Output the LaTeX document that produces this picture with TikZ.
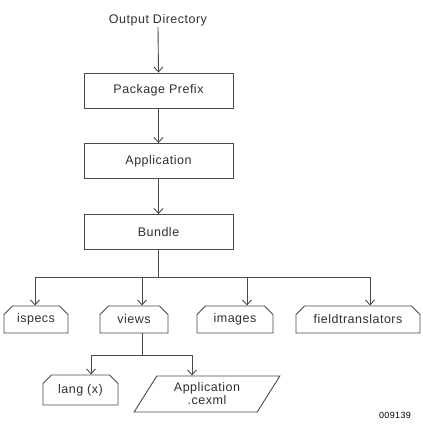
\documentclass[tikz,border=0pt]{standalone}
\usepackage{fontspec}
\setmainfont{Liberation Sans}[LetterSpace=4]
\usetikzlibrary{arrows.meta}
\usetikzlibrary{shapes.misc}
\usetikzlibrary{shapes.geometric}
\definecolor{linegray}{HTML}{4A4A4A}
\definecolor{textgray}{HTML}{303030}
\tikzset{>={Straight Barb[length=5pt,width=9pt]}}
\tikzset{conn/.style = {draw=linegray, line width=0.9pt}}
\tikzset{dirbox/.style = {draw=linegray, line width=0.9pt, fill=white, text=textgray, inner sep=0, minimum width=149pt, minimum height=35pt, font=\fontsize{12.5}{14}\selectfont}}
\tikzset{folder/.style = {chamfered rectangle, chamfered rectangle corners={north east,north west}, chamfered rectangle xsep=4.5pt, chamfered rectangle ysep=4pt, draw=linegray, line width=0.9pt, fill=white, text=textgray, inner sep=0, minimum height=27pt, font=\fontsize{12.5}{14}\selectfont}}
\tikzset{filebox/.style = {trapezium, trapezium left angle=56, trapezium right angle=124, trapezium stretches=true, draw=linegray, line width=0.9pt, fill=white, text=textgray, inner sep=0, minimum width=146pt, minimum height=36pt, align=center, font=\fontsize{12.5}{13}\selectfont}}

\begin{document}
\begin{tikzpicture}[x=1pt,y=-1pt]
        \useasboundingbox (0,0) rectangle (423,426);
        \node [text=textgray, inner sep=1pt, font=\fontsize{12.5}{14}\selectfont] (outdir) at (158,20) {Output Directory};
        \node [dirbox] (pkg) at (158.5,90.5) {Package Prefix};
        \node [dirbox] (app) at (158.5,161) {Application};
        \node [dirbox] (bundle) at (158.5,232) {Bundle};
        \node [folder, minimum width=64pt] (ispecs) at (36,319.5) {ispecs};
        \node [folder, minimum width=68pt] (views) at (134,319.5) {views};
        \node [folder, minimum width=76pt] (images) at (235,319.5) {images};
        \node [folder, minimum width=124pt] (fields) at (358,319.5) {fieldtranslators};
        \node [folder, minimum width=75pt, minimum height=30pt] (lang) at (80.5,390) {lang (x)};
        \node [filebox] (cexml) at (207,394) {Application\\.cexml};
        \node [font=\fontsize{9}{10}\selectfont] (figno) at (395,415) {009139};
        \coordinate (bar) at (158.5,277);
        \coordinate (vbar) at (142,355);
        % main column
        \draw [conn,->] (outdir.south) -- (pkg.north);
        \draw [conn,->] (pkg) -- (app);
        \draw [conn,->] (app) -- (bundle);
        % bundle folders
        \draw [conn] (bundle.south) -- (bar);
        \draw [conn,->] (bar) -| ([xshift=-1pt]ispecs.north);
        \draw [conn,->] (bar) -| ([xshift=8pt]views.north);
        \draw [conn,->] (bar) -| ([xshift=12pt]images.north);
        \draw [conn,->] (bar) -| ([xshift=12pt]fields.north);
        % views contents
        \draw [conn] ([xshift=8pt]views.south) -- (vbar);
        \draw [conn,->] (vbar) -| ([xshift=10.5pt]lang.north);
        \draw [conn,->] (vbar) -| ([xshift=-15pt]cexml.north);
    \end{tikzpicture}
\end{document}
